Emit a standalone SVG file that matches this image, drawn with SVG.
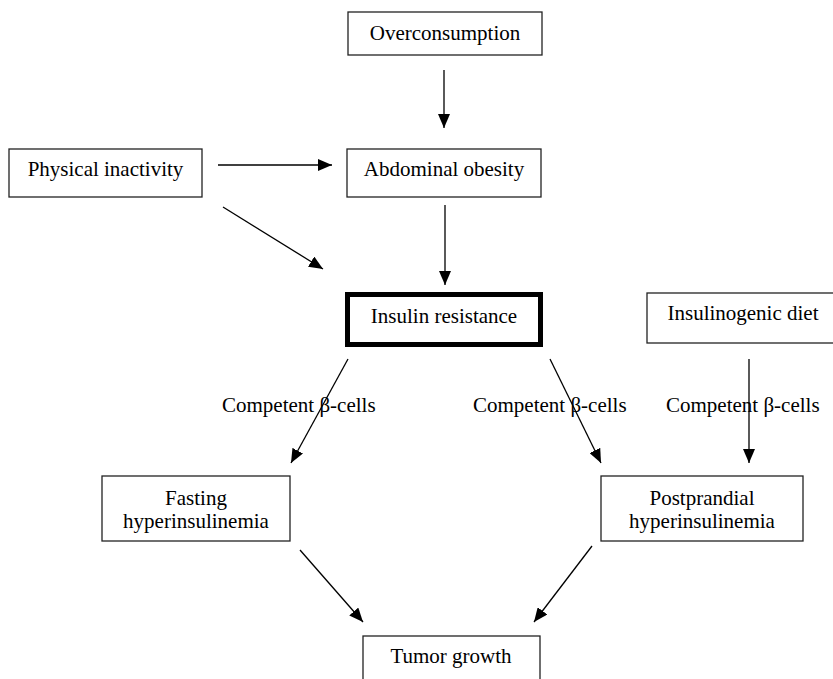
<svg xmlns="http://www.w3.org/2000/svg" width="833" height="679" viewBox="0 0 833 679">
<style>
.box{fill:#fff;stroke:#222;stroke-width:1.3}
.thick{fill:#fff;stroke:#000;stroke-width:5}
.t{font-family:"Liberation Serif","Times New Roman",serif;font-size:21px;fill:#000;text-anchor:middle}
.l{font-family:"Liberation Serif","Times New Roman",serif;font-size:21px;fill:#000}
.c{stroke:#000;stroke-width:1.3;fill:none;marker-end:url(#ah)}
</style>
<defs>
<marker id="ah" markerUnits="userSpaceOnUse" markerWidth="14" markerHeight="12" viewBox="0 0 14 12" refX="14" refY="6" orient="auto">
<path d="M0,0 L14,6 L0,12 Z" fill="#000"/>
</marker>
</defs>
<g id="overconsumption"><rect class="box" x="348" y="12" width="194" height="43"/><text class="t" x="445" y="40">Overconsumption</text></g>
<g id="physical-inactivity"><rect class="box" x="9" y="149" width="193" height="48"/><text class="t" x="105.5" y="176">Physical inactivity</text></g>
<g id="abdominal-obesity"><rect class="box" x="347" y="149" width="194" height="48"/><text class="t" x="444" y="176">Abdominal obesity</text></g>
<g id="insulin-resistance"><rect class="thick" x="347.5" y="294.5" width="193" height="50"/><text class="t" x="444" y="323">Insulin resistance</text></g>
<g id="insulinogenic-diet"><rect class="box" x="647" y="293" width="200" height="50"/><text class="t" x="743" y="320">Insulinogenic diet</text></g>
<g id="fasting-hyperinsulinemia"><rect class="box" x="102" y="476" width="188" height="65"/><text class="t" x="196" y="505">Fasting</text><text class="t" x="196" y="528">hyperinsulinemia</text></g>
<g id="postprandial-hyperinsulinemia"><rect class="box" x="601" y="476" width="202" height="65"/><text class="t" x="702" y="505">Postprandial</text><text class="t" x="702" y="528">hyperinsulinemia</text></g>
<g id="tumor-growth"><rect class="box" x="363" y="636" width="177" height="60"/><text class="t" x="451" y="663">Tumor growth</text></g>
<g id="connectors">
<line class="c" x1="444" y1="70" x2="444" y2="128"/>
<line class="c" x1="218" y1="165" x2="332" y2="165"/>
<line class="c" x1="223" y1="207" x2="323" y2="269"/>
<line class="c" x1="445" y1="205" x2="445" y2="285"/>
<line class="c" x1="348" y1="359" x2="291" y2="463"/>
<line class="c" x1="550" y1="359" x2="601" y2="463"/>
<line class="c" x1="749" y1="359" x2="749" y2="463"/>
<line class="c" x1="300" y1="550" x2="363" y2="622"/>
<line class="c" x1="592" y1="546" x2="534" y2="622"/>
<text class="l" x="222" y="412">Competent β-cells</text>
<text class="l" x="473" y="412">Competent β-cells</text>
<text class="l" x="666" y="412">Competent β-cells</text>
</g>
</svg>
